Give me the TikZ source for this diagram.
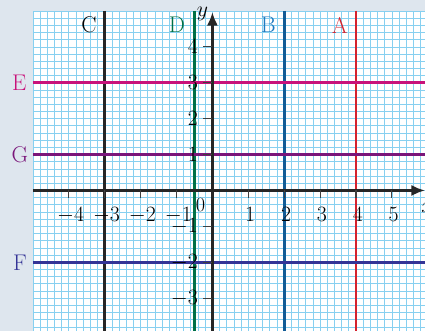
\documentclass[tikz,border=0pt]{standalone}
\usetikzlibrary{arrows.meta}

\definecolor{margincol}{RGB}{222,230,238}
\definecolor{gridcol}{RGB}{135,208,240}
\definecolor{colA}{RGB}{212,34,46}
\definecolor{colB}{RGB}{18,92,150}
\definecolor{colBtext}{RGB}{30,122,192}
\definecolor{colD}{RGB}{0,112,70}
\definecolor{colE}{RGB}{200,18,122}
\definecolor{colG}{RGB}{122,22,122}
\definecolor{colF}{RGB}{52,52,150}

\begin{document}
\begin{tikzpicture}[
    >={Latex[length=3.8mm,width=3.1mm]},
    % Styles
    gridline/.style={ % squared paper
        gridcol,
        line width=0.6pt
    },
    axis/.style={ % coordinate axes
        ->,
        line width=2pt,
        black!85
    },
    tick/.style={ % axis ticks
        line width=0.9pt,
        black!75
    },
    numlabel/.style={ % tick numbers
        inner sep=0pt,
        font=\fontsize{16}{19}\selectfont
    },
    linelabel/.style={ % names of the lines
        inner sep=0pt,
        font=\fontsize{18}{21}\selectfont
    },
    dline/.style={ % drawn lines
        line width=2.2pt
    }
]

    % Frame and paper
    \fill [margincol] (-5.917,-3.914) rectangle (5.922,5.306);
    \useasboundingbox (-5.917,-3.914) rectangle (5.922,5.306);
    \fill [white] (-5,-3.914) rectangle (5.922,5);
    \begin{scope}
        \clip (-5,-3.914) rectangle (5.922,5);
        \draw [gridline] (-5,-4) grid[step=0.2] (6,5);
    \end{scope}

    % Vertical lines
    \draw [dline, black!85] (-3,5) -- (-3,-3.914);
    \draw [dline, colD] (-0.5,5) -- (-0.5,-3.914);
    \draw [dline, colB] (2,5) -- (2,-3.914);
    \draw [dline, colA] (4,5) -- (4,-3.914);

    % Horizontal lines
    \draw [dline, colE] (-5,3) -- (5.922,3);
    \draw [dline, colG] (-5,1) -- (5.922,1);
    \draw [dline, colF] (-5,-2) -- (5.922,-2);

    % Axes
    \draw [axis] (0,-3.914) -- (0,4.97);
    \draw [axis] (-5,0) -- (5.922,0);
    \node [numlabel] (ylab) at (-0.28,4.93) {$y$};
    \node [numlabel] (xlab) at (5.99,-0.49) {$x$};
    \node [numlabel] (orig) at (-0.33,-0.40) {0};

    % Ticks and numbers
    \foreach \x in {-4,...,-1,1,2,...,5} {
        \draw [tick] (\x,0) -- (\x,-0.2);
        \node [numlabel, anchor=base] (xn\x) at (\x+0.05,-0.87) {$\x$};
    }
    \foreach \y in {-3,...,-1,1,2,...,4} {
        \draw [tick] (0,\y) -- (-0.25,\y);
        \node [numlabel, anchor=east] (yn\y) at (-0.40,\y) {$\y$};
    }

    % Names of the lines
    \node [linelabel, text=black] (C) at (-3.44,4.61) {C};
    \node [linelabel, text=colD] (D) at (-0.99,4.61) {D};
    \node [linelabel, text=colBtext] (B) at (1.56,4.61) {B};
    \node [linelabel, text=colA] (A) at (3.55,4.61) {A};
    \node [linelabel, text=colE] (E) at (-5.38,3) {E};
    \node [linelabel, text=colG] (G) at (-5.36,1) {G};
    \node [linelabel, text=colF] (F) at (-5.36,-2) {F};
\end{tikzpicture}
\end{document}
